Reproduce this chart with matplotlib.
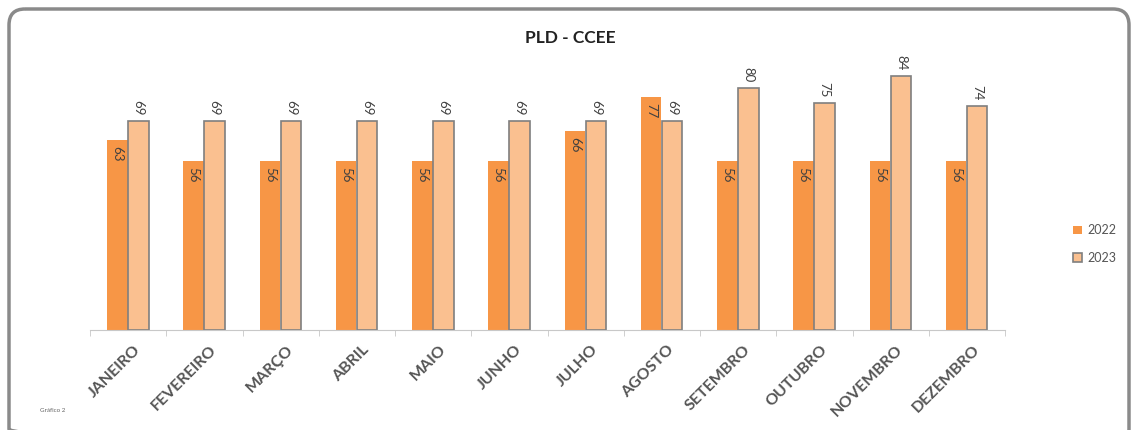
import matplotlib.pyplot as plt
from matplotlib.patches import FancyBboxPatch
import numpy as np

plt.rcParams['font.family'] = ['Lato', 'DejaVu Sans']

# Data
meses = ['JANEIRO', 'FEVEREIRO', 'MARÇO', 'ABRIL', 'MAIO', 'JUNHO',
         'JULHO', 'AGOSTO', 'SETEMBRO', 'OUTUBRO', 'NOVEMBRO', 'DEZEMBRO']
pld_2022 = [63, 56, 56, 56, 56, 56, 66, 77, 56, 56, 56, 56]
pld_2023 = [69, 69, 69, 69, 69, 69, 69, 69, 80, 75, 84, 74]
series = ['2022', '2023']

fig = plt.figure(figsize=(11.36, 4.30), dpi=100)

# rounded frame around the chart (background axes in pixel units)
bg = fig.add_axes([0, 0, 1, 1])
bg.set_xlim(0, 1136)
bg.set_ylim(430, 0)
bg.axis('off')
frame = FancyBboxPatch((9, 9), 1120, 436, boxstyle='round,pad=0,rounding_size=16',
                       fill=False, edgecolor='#8a8a8a', linewidth=2.5, clip_on=True)
bg.add_patch(frame)

ax = fig.add_axes([90 / 1136, 1 - 330 / 430, 915 / 1136, 272 / 430])

x = np.arange(len(meses))
w = 0.27
b1 = ax.bar(x - w / 2 - 0.005, pld_2022, w, color='#F79646', label=series[0], zorder=2)
b2 = ax.bar(x + w / 2, pld_2023, w, color='#FAC090', edgecolor='#7f7f7f',
            linewidth=1.2, label=series[1], zorder=2)

# value labels
for rect, v in zip(b1, pld_2022):
    ax.text(rect.get_x() + rect.get_width() / 2, v - 2.0, str(v), rotation=-90,
            ha='center', va='top', fontsize=9.5, color='#404040')
for rect, v in zip(b2, pld_2023):
    ax.text(rect.get_x() + rect.get_width() / 2, v + 2.0, str(v), rotation=-90,
            ha='center', va='bottom', fontsize=9.5, color='#404040')

ax.set_xlim(-0.5, len(meses) - 0.5)
ax.set_ylim(0, 90)
ax.set_yticks([])
for s in ['top', 'right', 'left']:
    ax.spines[s].set_visible(False)
ax.spines['bottom'].set_color('#c8c8c8')

ax.set_xticks(x + 0.07)
ax.set_xticklabels(meses, rotation=45, ha='right', va='top', rotation_mode='anchor',
                   fontsize=11.5, fontweight='bold', color='#555555')
ax.tick_params(axis='x', which='major', length=0, pad=9)
ax.set_xticks(np.arange(-0.5, len(meses)), minor=True)
ax.tick_params(axis='x', which='minor', length=4, color='#c8c8c8')

fig.text(570 / 1136, 1 - 38 / 430, 'PLD - CCEE', ha='center', va='center',
         fontsize=12.5, fontweight='bold', color='#222222')

fig.legend(handles=[b1, b2], labels=series, loc='center left',
           bbox_to_anchor=(1062 / 1136, 1 - 244 / 430), frameon=False,
           fontsize=9, labelcolor='#555555', handlelength=0.7, handleheight=0.7,
           labelspacing=1.2, handletextpad=0.4)

fig.text(40 / 1136, 1 - 411 / 430, 'Gráfico 2', fontsize=4.5, color='#666666',
         va='center')

fig.savefig('out.png', dpi=100)
